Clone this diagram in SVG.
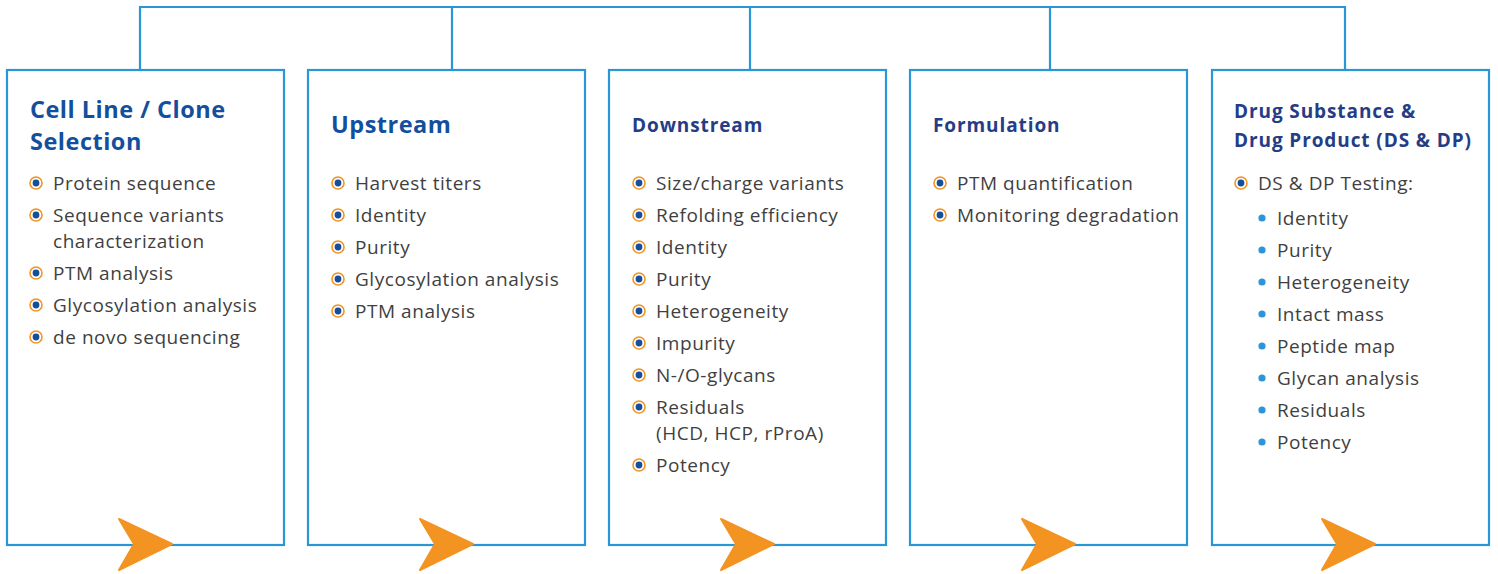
<svg xmlns="http://www.w3.org/2000/svg" width="1498" height="574" viewBox="0 0 1498 574">
<defs>
<style>
.box{fill:#fff;stroke:#2a96d6;stroke-width:2.2}
.conn{fill:none;stroke:#2a96d6;stroke-width:2.2}
.h1{font-family:"Open Sans","Liberation Sans",sans-serif;font-weight:700;font-size:23.5px;letter-spacing:0.5px;fill:#134f9c}
.h2{font-family:"Open Sans","Liberation Sans",sans-serif;font-weight:700;font-size:19px;letter-spacing:0.9px;fill:#253d86}
.t{font-family:"Open Sans","Liberation Sans",sans-serif;font-size:19px;letter-spacing:0.55px;fill:#3f3f3f}
.arrow{fill:#f29322;stroke:#f29322;stroke-width:2;stroke-linejoin:round}
</style>
<g id="bul">
<circle cx="0" cy="0" r="6" fill="#fff" stroke="#f29322" stroke-width="1.6"/>
<circle cx="0" cy="0" r="3.4" fill="#134f9c"/>
</g>
<circle id="dot" cx="0" cy="0" r="3.6" fill="#2a96d6"/>
<path id="arr" d="M0,0 L53,25 L0,51 L15,25 Z"/>
</defs>
<g id="connectors">
<path class="conn" d="M140,70 V7 H1345 V70 M452,7 V70 M750,7 V70 M1050,7 V70"/>
</g>
<g id="node-cell-line">
<rect class="box" x="7" y="70" width="277" height="475"/>
<text class="h1" x="30" y="118">Cell Line / Clone</text>
<text class="h1" x="30" y="150">Selection</text>
<use href="#bul" x="36" y="183"/><text class="t" x="53" y="190">Protein sequence</text>
<use href="#bul" x="36" y="215"/><text class="t" x="53" y="222">Sequence variants</text>
<text class="t" x="53" y="248">characterization</text>
<use href="#bul" x="36" y="273"/><text class="t" x="53" y="280">PTM analysis</text>
<use href="#bul" x="36" y="305"/><text class="t" x="53" y="312">Glycosylation analysis</text>
<use href="#bul" x="36" y="337"/><text class="t" x="53" y="344">de novo sequencing</text>
<use href="#arr" class="arrow" x="119" y="519"/>
</g>
<g id="node-upstream">
<rect class="box" x="308" y="70" width="277" height="475"/>
<text class="h1" x="331" y="133">Upstream</text>
<use href="#bul" x="338" y="183"/><text class="t" x="355" y="190">Harvest titers</text>
<use href="#bul" x="338" y="215"/><text class="t" x="355" y="222">Identity</text>
<use href="#bul" x="338" y="247"/><text class="t" x="355" y="254">Purity</text>
<use href="#bul" x="338" y="279"/><text class="t" x="355" y="286">Glycosylation analysis</text>
<use href="#bul" x="338" y="311"/><text class="t" x="355" y="318">PTM analysis</text>
<use href="#arr" class="arrow" x="420" y="519"/>
</g>
<g id="node-downstream">
<rect class="box" x="609" y="70" width="277" height="475"/>
<text class="h2" x="632" y="132">Downstream</text>
<use href="#bul" x="639" y="183"/><text class="t" x="656" y="190">Size/charge variants</text>
<use href="#bul" x="639" y="215"/><text class="t" x="656" y="222">Refolding efficiency</text>
<use href="#bul" x="639" y="247"/><text class="t" x="656" y="254">Identity</text>
<use href="#bul" x="639" y="279"/><text class="t" x="656" y="286">Purity</text>
<use href="#bul" x="639" y="311"/><text class="t" x="656" y="318">Heterogeneity</text>
<use href="#bul" x="639" y="343"/><text class="t" x="656" y="350">Impurity</text>
<use href="#bul" x="639" y="375"/><text class="t" x="656" y="382">N-/O-glycans</text>
<use href="#bul" x="639" y="407"/><text class="t" x="656" y="414">Residuals</text>
<text class="t" x="656" y="440">(HCD, HCP, rProA)</text>
<use href="#bul" x="639" y="465"/><text class="t" x="656" y="472">Potency</text>
<use href="#arr" class="arrow" x="721" y="519"/>
</g>
<g id="node-formulation">
<rect class="box" x="910" y="70" width="277" height="475"/>
<text class="h2" x="933" y="132">Formulation</text>
<use href="#bul" x="940" y="183"/><text class="t" x="957" y="190">PTM quantification</text>
<use href="#bul" x="940" y="215"/><text class="t" x="957" y="222">Monitoring degradation</text>
<use href="#arr" class="arrow" x="1022" y="519"/>
</g>
<g id="node-ds-dp">
<rect class="box" x="1212" y="70" width="277" height="475"/>
<text class="h2" x="1234" y="118">Drug Substance &amp;</text>
<text class="h2" x="1234" y="147">Drug Product (DS &amp; DP)</text>
<use href="#bul" x="1241" y="183"/><text class="t" x="1258" y="190">DS &amp; DP Testing:</text>
<use href="#dot" x="1262" y="218"/><text class="t" x="1277" y="225">Identity</text>
<use href="#dot" x="1262" y="250"/><text class="t" x="1277" y="257">Purity</text>
<use href="#dot" x="1262" y="282"/><text class="t" x="1277" y="289">Heterogeneity</text>
<use href="#dot" x="1262" y="314"/><text class="t" x="1277" y="321">Intact mass</text>
<use href="#dot" x="1262" y="346"/><text class="t" x="1277" y="353">Peptide map</text>
<use href="#dot" x="1262" y="378"/><text class="t" x="1277" y="385">Glycan analysis</text>
<use href="#dot" x="1262" y="410"/><text class="t" x="1277" y="417">Residuals</text>
<use href="#dot" x="1262" y="442"/><text class="t" x="1277" y="449">Potency</text>
<use href="#arr" class="arrow" x="1322" y="519"/>
</g>
</svg>
